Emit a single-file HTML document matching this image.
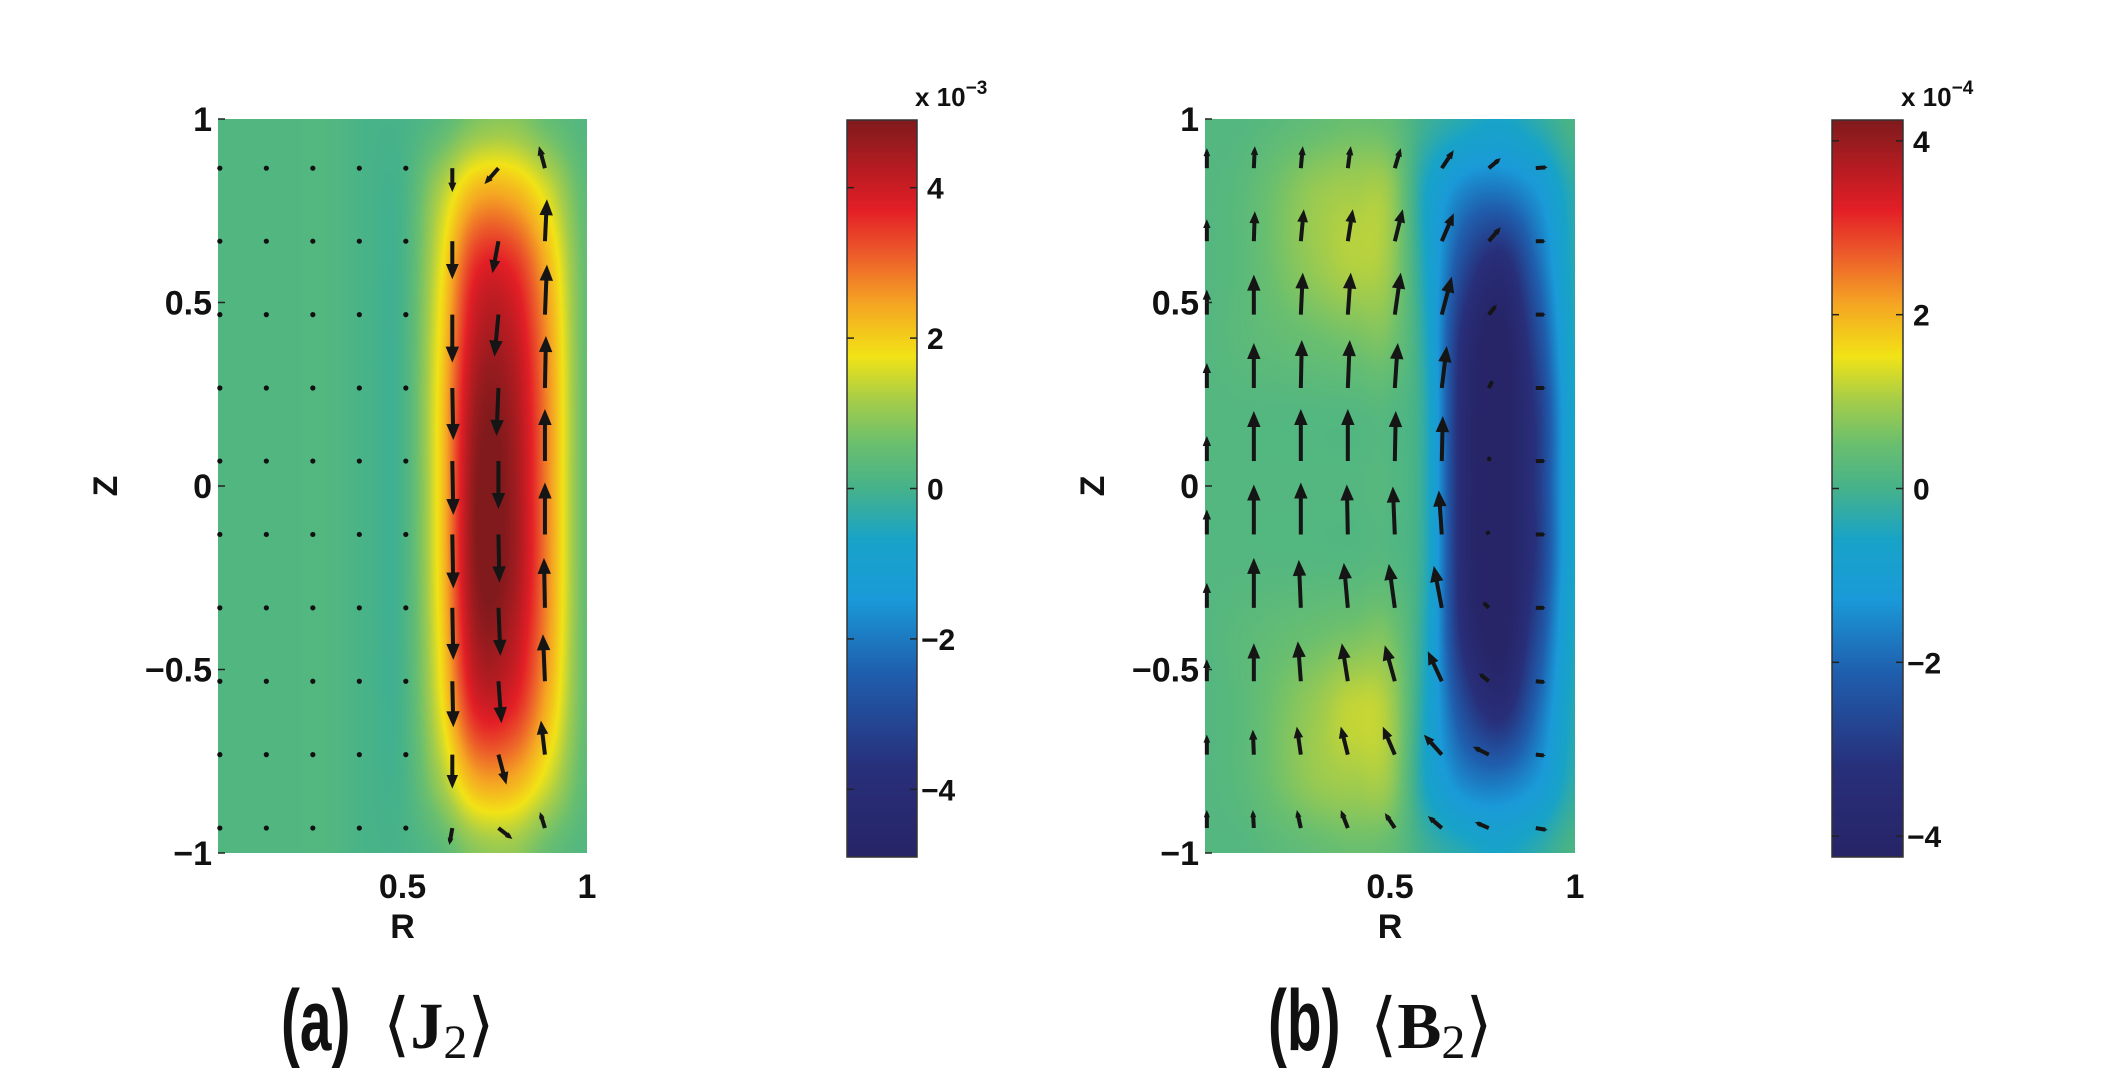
<!DOCTYPE html>
<html><head><meta charset="utf-8"><style>
body{margin:0;background:#fff;}
#root{position:relative;width:2108px;height:1075px;overflow:hidden;background:#fff;font-family:"Liberation Sans",sans-serif;}
canvas{position:absolute;}
svg{position:absolute;left:0;top:0;}
</style></head><body>
<div id="root">
<canvas id="hmA" width="369" height="734" style="left:218px;top:119px"></canvas>
<canvas id="hmB" width="370" height="734" style="left:1205px;top:119px"></canvas>
<canvas id="cbA" width="70" height="737" style="left:847px;top:120px"></canvas>
<canvas id="cbB" width="71" height="737" style="left:1832px;top:120px"></canvas>
<svg id="ov" width="2108" height="1075"></svg>
</div>
<script>
// ---- data: heat grid rows are Z = 1, 0.8 ... -1 ; columns R = 0, 0.1 ... 1
const gridR = [0,0.1,0.2,0.3,0.4,0.5,0.6,0.7,0.8,0.9,1.0];
const gridZ = [1,0.8,0.6,0.4,0.2,0,-0.2,-0.4,-0.6,-0.8,-1];
const fieldJ = [
 [0.2,0.2,0.2,0.2,0.05,0.05,0.3,0.8,0.9,0.5,0.2],
 [0.2,0.2,0.2,0.2,0.05,0.05,1.2,2.3,2.3,1.5,0.4],
 [0.2,0.2,0.2,0.2,0.05,0.05,1.6,3.6,3.6,2.2,0.5],
 [0.2,0.2,0.2,0.2,0.05,0.05,1.8,4.2,4.2,2.5,0.5],
 [0.2,0.2,0.2,0.2,0.05,0.05,1.9,4.6,4.5,2.6,0.5],
 [0.2,0.2,0.2,0.2,0.05,0.05,1.9,4.8,4.6,2.6,0.5],
 [0.2,0.2,0.2,0.2,0.05,0.05,1.9,4.8,4.6,2.6,0.5],
 [0.2,0.2,0.2,0.2,0.05,0.05,1.8,4.5,4.3,2.5,0.5],
 [0.2,0.2,0.2,0.2,0.05,0.05,1.6,3.8,3.7,2.2,0.5],
 [0.2,0.2,0.2,0.2,0.05,0.05,1.1,2.4,2.4,1.5,0.4],
 [0.2,0.2,0.2,0.2,0.05,0.05,0.3,0.9,1.0,0.5,0.2]
];
const fieldB = [
 [0.2,0.2,0.3,0.4,0.5,0.4,-0.1,-0.4,-0.6,-0.3,0.1],
 [0.2,0.3,0.6,0.9,1.0,0.9,-0.6,-1.6,-1.8,-1.3,-0.3],
 [0.2,0.3,0.6,0.9,1.1,0.9,-0.6,-2.6,-3.5,-2.0,-0.4],
 [0.2,0.3,0.4,0.5,0.6,0.6,-0.5,-3.4,-4.3,-2.6,-0.5],
 [0.2,0.2,0.2,0.2,0.2,0.2,-0.4,-3.6,-4.3,-3.0,-0.6],
 [0.2,0.2,0.2,0.2,0.2,0.2,-0.4,-3.6,-4.3,-3.0,-0.6],
 [0.2,0.2,0.2,0.2,0.2,0.2,-0.4,-3.6,-4.3,-3.0,-0.6],
 [0.2,0.3,0.4,0.5,0.6,0.6,-0.5,-3.4,-4.3,-2.6,-0.5],
 [0.2,0.3,0.6,0.9,1.2,1.0,-0.6,-2.6,-3.5,-2.0,-0.4],
 [0.2,0.3,0.6,0.9,1.0,0.9,-0.6,-1.6,-1.8,-1.3,-0.3],
 [0.2,0.2,0.3,0.4,0.5,0.4,-0.1,-0.4,-0.6,-0.3,0.1]
];
// quiver grids
const arrowZ = [0.866,0.667,0.467,0.267,0.068,-0.132,-0.332,-0.532,-0.732,-0.932];
const arrowRA = [0.005,0.131,0.257,0.383,0.509,0.635,0.760,0.886];
const arrowRB = [0.005,0.132,0.259,0.386,0.513,0.640,0.767,0.894];
// vector components (u = radial, w = vertical); rows = arrowZ, columns = arrowR
const uJ = [
 [0,0,0,0,-2,0,-14,-6],[0,0,0,0,0,0,-6,2],[0,0,0,0,0,0,-4,2],[0,0,0,0,0,1,-2,1],[0,0,0,0,0,1,0,0],
 [0,0,0,0,0,1,1,0],[0,0,0,0,0,1,2,-1],[0,0,0,0,0,1,3,-2],[0,0,0,0,0,0,8,-4],[0,0,0,0,3,-3,14,-5]];
const wJ = [
 [0,0,0,0,-1,-24,-16,22],[0,0,0,0,-2,-38,-32,42],[0,0,0,0,-1,-48,-42,50],[0,0,0,0,0,-52,-48,52],[0,0,0,0,0,-54,-48,52],
 [0,0,0,0,0,-54,-48,52],[0,0,0,0,0,-52,-48,50],[0,0,0,0,1,-46,-42,47],[0,0,0,0,1,-34,-30,34],[0,0,0,0,-1,-17,-11,16]];
const uB = [
 [0,1,2,3,6,12,12,12],[0,1,3,5,8,12,12,10],[0,0,2,3,6,10,8,10],[0,0,1,2,3,5,4,10],[0,0,0,0,1,1,1,10],
 [0,0,0,-1,-2,-3,-2,10],[0,0,-2,-4,-6,-8,-6,10],[0,0,-3,-6,-10,-14,-10,10],[0,-1,-4,-7,-12,-18,-16,10],[0,-1,-4,-7,-10,-14,-14,12]];
const wB = [
 [20,22,22,22,20,18,10,1],[22,30,32,32,32,28,14,0],[25,40,42,42,42,38,10,0],[25,45,48,48,45,42,8,0],[25,50,52,52,50,45,5,0],
 [25,50,52,50,48,44,4,0],[25,50,48,45,44,42,6,0],[22,38,40,38,36,30,8,-1],[20,25,28,28,28,20,8,-1],[18,18,18,18,15,12,6,-2]];
const ticksCbA = [4,2,0,-2,-4];
const ticksCbB = [4,2,0,-2,-4];
const ticksZ = [1,0.5,0,-0.5,-1];
const ticksZlbl = ["1","0.5","0","\u22120.5","\u22121"];
const ticksR = [0.5,1];
const ticksRlbl = ["0.5","1"];
const vmaxA = 4.9, vmaxB = 4.24;

// ---- colormap
const stops=[[0,[39,36,103]],[0.12,[40,47,122]],[0.25,[31,95,174]],[0.35,[26,154,216]],[0.43,[24,163,200]],
 [0.5,[70,178,138]],[0.56,[106,191,111]],[0.62,[166,205,74]],[0.68,[242,227,22]],[0.75,[245,166,35]],
 [0.82,[236,90,42]],[0.88,[227,30,38]],[1,[128,26,28]]];
function cmap(t){t=Math.max(0,Math.min(1,t));for(let i=1;i<stops.length;i++){if(t<=stops[i][0]){const a=stops[i-1],b=stops[i],f=(t-a[0])/(b[0]-a[0]);return [0,1,2].map(k=>Math.round(a[1][k]+(b[1][k]-a[1][k])*f));}}return stops[stops.length-1][1];}
function cr(p0,p1,p2,p3,t){return 0.5*((2*p1)+(-p0+p2)*t+(2*p0-5*p1+4*p2-p3)*t*t+(-p0+3*p1-3*p2+p3)*t*t*t);}
function sample(F,R,Z){
 const fx=R/0.1, fy=(1-Z)/0.2; const ix=Math.floor(fx), iy=Math.floor(fy); const tx=fx-ix, ty=fy-iy;
 const g=(r,c)=>F[Math.max(0,Math.min(10,r))][Math.max(0,Math.min(10,c))];
 const rows=[]; for(let j=-1;j<=2;j++){rows.push(cr(g(iy+j,ix-1),g(iy+j,ix),g(iy+j,ix+1),g(iy+j,ix+2),tx));}
 return cr(rows[0],rows[1],rows[2],rows[3],ty);
}
function drawHeat(id,F,vmax){
 const c=document.getElementById(id),ctx=c.getContext('2d'),W=c.width,H=c.height,img=ctx.createImageData(W,H);
 for(let y=0;y<H;y++)for(let x=0;x<W;x++){const R=x/(W-1),Z=1-2*y/(H-1);const v=sample(F,R,Z);const col=cmap((v+vmax)/(2*vmax));const i=(y*W+x)*4;img.data[i]=col[0];img.data[i+1]=col[1];img.data[i+2]=col[2];img.data[i+3]=255;}
 ctx.putImageData(img,0,0);
}
function drawCb(id){
 const c=document.getElementById(id),ctx=c.getContext('2d');
 for(let y=0;y<c.height;y++){const col=cmap(1-y/(c.height-1));ctx.fillStyle=`rgb(${col})`;ctx.fillRect(0,y,c.width,1);}
}
drawHeat('hmA',fieldJ,vmaxA);drawHeat('hmB',fieldB,vmaxB);drawCb('cbA');drawCb('cbB');

// ---- overlay
const NS='http://www.w3.org/2000/svg',ov=document.getElementById('ov');
function el(tag,attrs,parent){const e=document.createElementNS(NS,tag);for(const k in attrs)e.setAttribute(k,attrs[k]);(parent||ov).appendChild(e);return e;}
function txt(s,attrs,name){const t=el('text',attrs);t.textContent=s;return t;}

function panel(P,F,aR,U,Wv,tag){
 const xs=R=>P.x+R*P.w, ys=Z=>P.y+(1-Z)/2*P.h;
 const g=el('g',{});
 
 
 for(let r=0;r<arrowZ.length;r++)for(let c=0;c<aR.length;c++){
  const x0=xs(aR[c]),y0=ys(arrowZ[r]),u=U[r][c],w=Wv[r][c],L=Math.hypot(u,w);
  if(L<4){const d=el('circle',{cx:x0,cy:y0,r:2.6,fill:'#111'},g);continue;}
  const x1=x0+u,y1=y0-w,ux=u/L,uy=-w/L,h=Math.min(0.4*L,16),hw=h*0.42;
  const a=el('g',{},g);
  
  
  el('line',{x1:x0,y1:y0,x2:x1-ux*h*0.5,y2:y1-uy*h*0.5,stroke:'#151515','stroke-width':4},a);
  const bx=x1-ux*h,by=y1-uy*h;
  el('polygon',{points:`${x1},${y1} ${bx-uy*hw},${by+ux*hw} ${bx+uy*hw},${by-ux*hw}`,fill:'#151515'},a);
 }
 ticksZ.forEach((z,i)=>{const t=el('line',{x1:P.x,y1:ys(z),x2:P.x+7,y2:ys(z),stroke:'#222','stroke-width':1.5});
  txt(ticksZlbl[i],{x:P.x-6,y:ys(z)+12,'text-anchor':'end','font-size':34,'font-weight':'bold',fill:'#111'},'y-tick-label');});
 ticksR.forEach((r,i)=>{txt(ticksRlbl[i],{x:xs(r),y:P.y+P.h+45,'text-anchor':'middle','font-size':34,'font-weight':'bold',fill:'#111'},'x-tick-label');});
 txt('R',{x:xs(0.5),y:P.y+P.h+85,'text-anchor':'middle','font-size':34,'font-weight':'bold',fill:'#111'},'x-axis-title');
 txt('Z',{x:0,y:0,'text-anchor':'middle','font-size':34,'font-weight':'bold',fill:'#111',transform:`translate(${P.x-101},${ys(0)}) rotate(-90)`},'y-axis-title');
}
panel({x:218,y:119,w:369,h:734},fieldJ,arrowRA,uJ,wJ,'j2');
panel({x:1205,y:119,w:370,h:734},fieldB,arrowRB,uB,wB,'b2');

function cbAxis(C,ticks,vmax,exp){
 const ys=v=>C.y+(vmax-v)/(2*vmax)*C.h;
 const b=el('rect',{x:C.x,y:C.y,width:C.w,height:C.h,fill:'none',stroke:'#333','stroke-width':1.5});
 
 ticks.forEach(v=>{const y=ys(v);
  el('line',{x1:C.x,y1:y,x2:C.x+7,y2:y,stroke:'#222','stroke-width':1.5});
  el('line',{x1:C.x+C.w-7,y1:y,x2:C.x+C.w,y2:y,stroke:'#222','stroke-width':1.5});
  txt(v<0?'\u2212'+(-v):String(v),{x:C.x+C.w+(v<0?4:10),y:y+11,'font-size':30,'font-weight':'bold',fill:'#111'},'colorbar-tick-label');});
 const t=txt('',{x:C.x+C.w-2,y:C.y-14,'font-size':26,'font-weight':'bold',fill:'#111'},'colorbar-exponent');
 t.innerHTML='x 10<tspan dy="-12" font-size="19">\u2212'+exp+'</tspan>';
}
cbAxis({x:847,y:120,w:70,h:737},ticksCbA,vmaxA,3);
cbAxis({x:1832,y:120,w:71,h:737},ticksCbB,vmaxB,4);

function caption(x0,letter,sym,name){
 const g=el('g',{});
 
 
 const p=el('text',{x:0,y:0,'font-size':86,'font-weight':'bold',fill:'#111',transform:`translate(${x0},1050) scale(0.66,1)`},g);
 p.textContent='('+letter+')';
 const s=el('text',{x:x0+102,y:1048,fill:'#111','font-family':'Liberation Serif, serif','font-size':70},g);
 s.innerHTML=`\u27E8<tspan font-size="66" font-weight="bold">${sym}</tspan><tspan font-size="48" dy="10">2</tspan><tspan dy="-10">\u27E9</tspan>`;
}
caption(281,'a','J','caption-a');
caption(1268,'b','B','caption-b');
</script>
</body></html>
